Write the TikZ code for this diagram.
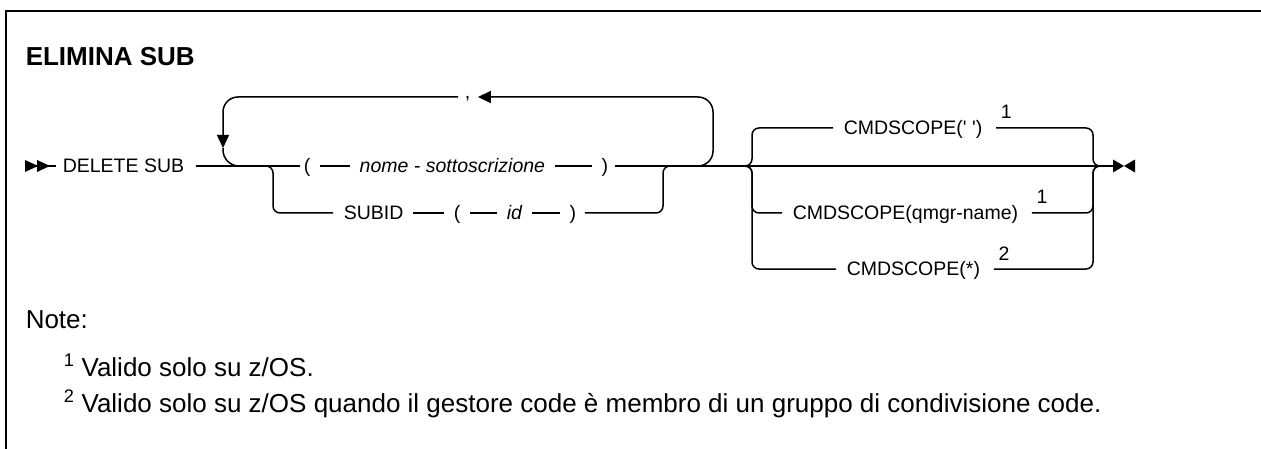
\documentclass[tikz,border=0pt]{standalone}
\usepackage{fontspec}
\setmainfont{Liberation Sans}
\usetikzlibrary{positioning,arrows.meta}

\begin{document}
\begin{tikzpicture}[x=1pt, y=-1pt, line width=1.5pt,
  font=\fontsize{19.5}{23}\selectfont,
  rr/.style={inner sep=0pt, text height=14pt, text depth=0pt, anchor=west},
  seg/.style={shorten <=9pt, shorten >=9pt},
  note/.style={inner sep=0pt, anchor=base west, font=\fontsize{26}{30}\selectfont},
  loop tip/.style={-{Triangle[length=13pt,width=12pt]}},
  turn/.style={rounded corners=7pt}]
\useasboundingbox (0,0) rectangle (1261,449);
\draw[line width=2.3pt] (6,449) -- (6,11) -- (1261,11);

\node[inner sep=0pt, anchor=west, font=\fontsize{26}{30}\selectfont\bfseries] (title) at (25,57) {ELIMINA SUB};

\coordinate (start) at (25,166);
\coordinate (stop) at (1113,166);
\node[rr] (ds) at (62,166) {DELETE SUB};
\node[rr] (lp1) at (303,166) {(};
\node[rr, right=48pt of lp1] (nm) {\itshape nome - sottoscrizione};
\node[rr, right=55pt of nm] (rp1) {)};
\node[rr] (sb) at (343,213) {SUBID};
\node[rr, right=49pt of sb] (lp2) {(};
\node[rr, right=45pt of lp2] (id) {\itshape id};
\node[rr, right=46pt of id] (rp2) {)};
\node[rr] (comma) at (464,97) {\raisebox{5pt}{,}};
\node[rr] (cm1) at (843,128) {CMDSCOPE(\textquotesingle\ \textquotesingle)};
\node[rr] (cm2) at (792,213) {CMDSCOPE(qmgr-name)};
\node[rr] (cm3) at (846,269) {CMDSCOPE(*)};
\node[rr] (n1) at ([xshift=17pt,yshift=16pt]cm1.east) {1};
\node[rr] (n2) at ([xshift=17pt,yshift=16pt]cm2.east) {1};
\node[rr] (n3) at ([xshift=17pt,yshift=16pt]cm3.east) {2};

\node[note] (nt) at (25,328) {Note:};
\node[note] (f1) at (63,376) {\textsuperscript{1} Valido solo su z/OS.};
\node[note] (f2) at (63,412) {\textsuperscript{2} Valido solo su z/OS quando il gestore code è membro di un gruppo di condivisione code.};

\draw[shorten >=6pt] (start) -- (ds);
\fill (start) ++(0,-6) -- ++(13,6) -- ++(-13,6) -- cycle;
\fill (start) ++(12,-6) -- ++(13,6) -- ++(-13,6) -- cycle;
\draw[shorten <=11pt, shorten >=3pt] (ds) -- (lp1);
\draw[seg] (lp1) -- (nm);
\draw[seg] (nm) -- (rp1);
\draw[shorten <=6pt] (rp1) -- (stop);
\fill (stop) ++(0,-6.5) -- ++(11,6.5) -- ++(-11,6.5) -- cycle;
\fill (stop) ++(22,-6.5) -- ++(-11,6.5) -- ++(11,6.5) -- cycle;

\coordinate (lpl) at (223,148);
\coordinate (lpm) at (250,166);
\coordinate (lpr) at (690,166);
\coordinate (lpt) at (713,97);
\draw[rounded corners=15pt, loop tip, shorten >=7pt] (lpr) -| (lpt) -- (comma);
\draw[rounded corners=15pt, loop tip, shorten <=6pt] (comma) -| (lpl);
\draw[rounded corners=16pt] (lpl) |- (lpm);

\coordinate (bl) at (258,166);
\coordinate (bx) at (273,166);
\coordinate (bj) at (663,166);
\coordinate (bk) at (678,166);
\draw[turn, shorten >=10pt] (bl) -- (bx) |- (sb);
\draw[seg] (sb) -- (lp2);
\draw[seg] (lp2) -- (id);
\draw[seg] (id) -- (rp2);
\draw[turn, shorten <=8pt] (rp2) -| (bj) -- (bk);

\coordinate (gl) at (738,166);
\coordinate (gx) at (752,166);
\coordinate (gy) at (1093,166);
\coordinate (gr) at (1103,166);
\draw[turn, shorten >=10pt] (gl) -- (gx) |- (cm1);
\draw[turn, shorten >=10pt] (gl) -- (gx) |- (cm2);
\draw[turn, shorten >=10pt] (gl) -- (gx) |- (cm3);
\draw[turn, shorten <=13pt] (cm1) -| (gy) -- (gr);
\draw[turn, shorten <=13pt] (cm2) -| (gy) -- (gr);
\draw[turn, shorten <=13pt] (cm3) -| (gy) -- (gr);
\end{tikzpicture}
\end{document}
